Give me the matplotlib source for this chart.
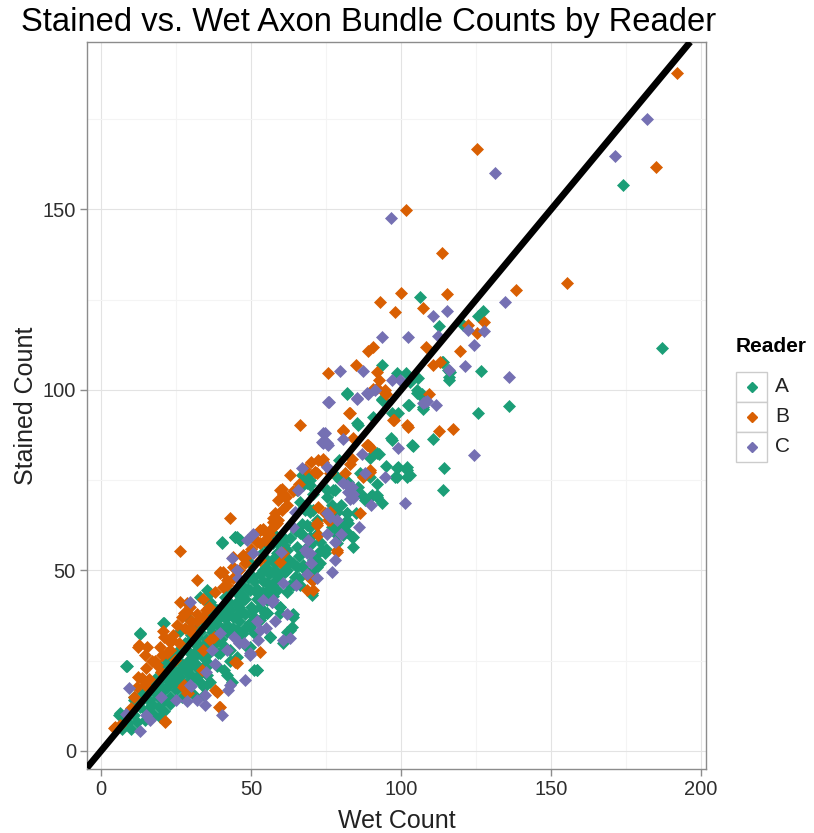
import matplotlib
matplotlib.use("Agg")
import matplotlib.pyplot as plt
from matplotlib.patches import Rectangle
from matplotlib.lines import Line2D

plt.rcParams['font.family'] = ['Liberation Sans', 'DejaVu Sans']

readers = ["A", "B", "C"]
colors = {"A": "#1B9E77", "B": "#D95F02", "C": "#7570B3"}

x_ticks = [0, 50, 100, 150, 200]
y_ticks = [0, 50, 100, 150]

# Reader A (wet, stained)
a_wet = [174.1, 186.9, 136.1, 125.6, 127.4, 126.6, 110.6, 116.3, 116.1, 116.1, 113.6, 112.8, 106.3, 106.9, 107.4,
         93.6, 98.6, 101.7, 114.1, 115.8, 81.9, 93.6, 105.4, 106.3, 102.8, 107.2, 99.1, 90.8, 85.8, 96.6,
         103.9, 91.0, 92.8, 79.4, 68.6, 67.4, 86.3, 89.7, 99.1, 101.9, 98.6, 101.9, 114.3, 113.9, 90.2,
         91.9, 78.0, 69.7, 125.7, 120.7, 105.7, 103.0,
         68.3, 65.2, 66.3, 68.6, 70.8, 78.6, 75.2, 85.8, 88.6, 67.4, 69.7, 68.6, 76.9, 78.6, 81.9, 81.9, 80.2,
         40.2, 44.7, 46.3, 56.9, 58.6, 61.3, 65.8, 67.4, 69.7, 71.9, 69.7, 73.0, 73.6, 74.7, 78.6, 83.6, 84.1,
         81.9, 71.9, 70.8, 66.3, 65.2, 61.3, 59.1, 63.0, 70.2, 53.6, 55.2, 54.1, 58.0, 59.7, 60.8, 62.4,
         35.2, 33.0, 36.3, 41.3, 38.6, 41.9, 46.3, 47.4, 49.7, 51.9, 55.2, 54.7, 58.6, 59.7, 64.1, 63.0, 56.3,
         49.7, 45.2, 39.7,
         21.1, 13.1, 26.4, 29.8, 8.4, 10.9, 14.2, 13.1, 16.4, 19.2, 5.9, 7.6, 14.8, 17.6, 19.8, 30.9, 34.2,
         43.7, 50.9, 35.3, 36.4, 32.0, 29.8, 26.4, 24.2, 22.0, 19.8, 23.1, 28.7, 32.0, 35.3, 38.7, 40.9, 42.0,
         39.8, 43.1, 45.3, 48.7, 34.2, 30.9, 28.7, 32.0, 36.4, 34.2, 39.8, 42.0, 46.4, 49.8, 50.9, 45.3, 25.3,
         22.0, 17.6, 15.3, 9.8, 8.7, 23.1, 20.9, 28.7, 34.2,
         70.2, 63.6, 63.6, 56.3, 51.9, 49.7, 47.4, 49.7, 53.0, 55.2, 59.7, 59.7, 57.4, 54.1, 50.8, 46.3, 47.4,
         51.9, 55.2, 64.7, 67.4, 70.8, 72.4, 63.0, 65.2, 61.9, 60.8, 66.3, 69.7, 71.9, 70.8, 78.6, 81.9, 82.4,
         80.8, 84.1, 78.6, 89.7, 91.9, 93.6, 88.0, 75.2, 77.4, 79.7, 82.4, 98.6, 101.9, 103.0, 98.0, 103.6,
         96.9, 91.9, 89.7, 85.2, 81.9, 93.6, 96.9, 102.4, 105.2, 66.9, 69.7, 69.7, 68.0, 44.7, 46.3, 57.4,
         58.6, 60.8,
         40.2, 45.2, 35.2, 37.4, 20.8, 13.0, 26.3, 29.7, 8.6, 19.7, 23.0, 6.3, 50.8, 55.2, 56.3, 51.9, 57.4,
         58.6, 55.2, 49.7, 50.8, 46.3, 36.3, 41.9, 45.2,
         25, 27, 30, 32, 35, 37, 40, 42, 44, 46, 48, 33, 31, 38, 36, 41, 43, 45, 47, 49, 52, 54, 56, 58,
         24, 22, 18, 16, 20, 26, 29, 33, 36, 39, 41, 43, 46, 48, 51, 53, 55, 57, 12, 10, 15, 11, 60.7, 62, 64,
         12, 14, 16, 18, 20, 22, 24, 26, 28, 30, 32, 34, 17, 19, 21, 23, 25, 27, 29, 31, 33, 35, 37, 39,
         41, 43, 45, 47, 49, 51, 53, 55, 57, 59, 61, 63, 65, 67, 38, 40, 42, 44, 46, 48, 50, 52, 54, 56,
         58, 60, 62, 64, 66, 68, 70, 72, 30, 32, 34, 36, 25, 27, 23, 21, 9, 11, 7, 62, 64, 66, 68, 73,
         75, 77, 80, 85, 87, 92, 95]
a_st = [156.9, 111.6, 95.6, 93.5, 121.9, 105.3, 86.3, 105.0, 103.7, 102.8, 107.8, 117.7, 125.8, 99.0, 95.4,
        106.9, 104.6, 104.6, 107.8, 105.5, 98.9, 97.6, 100.0, 98.6, 95.8, 94.6, 93.7, 92.4, 90.3, 86.6,
        84.5, 82.6, 82.3, 80.6, 76.5, 73.7, 76.9, 76.0, 78.7, 78.7, 76.0, 76.0, 78.5, 72.4, 70.9,
        70.9, 72.3, 73.7, 120.5, 118.0, 103.3, 102.2,
        76.5, 72.3, 69.0, 74.1, 71.3, 75.8, 72.3, 73.2, 69.5, 67.2, 66.8, 62.6, 68.1, 66.3, 65.8, 64.0, 62.1,
        57.9, 59.3, 58.4, 60.7, 57.9, 58.8, 61.2, 59.8, 59.3, 60.2, 57.1, 58.0, 55.7, 54.7, 59.8, 59.3, 56.5,
        60.7, 51.0, 50.1, 46.0, 51.0, 49.6, 48.3, 46.0, 43.2, 54.7, 52.9, 50.1, 50.1, 54.7, 51.9, 53.3,
        44.6, 42.7, 41.4, 42.7, 39.1, 37.2, 39.1, 41.8, 44.6, 43.7, 41.8, 38.1, 44.6, 40.0, 37.2, 33.5, 31.7,
        35.4, 33.5, 34.4,
        35.4, 32.4, 33.1, 36.3, 23.4, 14.1, 14.6, 12.3, 12.3, 12.3, 9.9, 9.1, 8.6, 10.0, 9.5, 15.5, 15.5,
        19.2, 22.4, 21.1, 19.2, 20.6, 19.7, 20.6, 19.2, 17.8, 19.7, 22.0, 22.0, 23.8, 24.3, 23.4, 22.4, 21.1,
        27.1, 28.0, 26.1, 28.9, 28.0, 26.1, 29.8, 31.7, 34.4, 36.3, 37.2, 40.0, 38.1, 35.4, 32.6, 32.6, 26.1,
        25.2, 17.8, 16.0, 11.4, 7.7, 15.0, 14.1, 18.8, 17.8,
        43.7, 37.7, 34.4, 31.7, 22.4, 28.9, 32.6, 34.4, 36.3, 38.1, 40.0, 38.1, 42.8, 41.8, 39.1, 38.1, 42.8,
        44.6, 46.4, 48.3, 51.5, 52.9, 54.8, 52.4, 56.6, 55.7, 58.4, 60.3, 62.1, 64.0, 66.8, 61.2, 65.8, 63.1,
        59.8, 59.4, 57.5, 70.4, 70.4, 68.6, 69.5, 70.4, 72.3, 75.1, 74.6, 78.3, 77.8, 76.4, 76.0, 84.8,
        86.2, 82.5, 81.1, 90.8, 99.1, 97.2, 93.5, 95.8, 99.1, 76.5, 75.1, 66.3, 66.8, 59.4, 58.4, 57.5,
        54.8, 51.5,
        57.5, 59.4, 41.4, 40.0, 35.4, 32.6, 27.1, 27.1, 23.4, 23.4, 21.5, 10.4, 35.4, 38.1, 31.7, 22.4, 43.7,
        47.4, 57.1, 52.0, 48.3, 45.5, 43.7, 44.6, 43.7,
        22, 24, 25, 27, 30, 29, 33, 35, 37, 40, 42, 33, 30, 36, 38, 39, 41, 44, 46, 48, 45, 47, 49, 52,
        24, 20, 16, 14, 18, 18, 23, 19, 24, 27, 29, 25, 31, 34, 37, 40, 43, 46, 8, 6, 11, 15, 29.9, 33, 38,
        14, 16, 18, 20, 22, 24, 26, 28, 30, 32, 34, 36, 13, 15, 17, 19, 21, 23, 25, 27, 29, 31, 33, 35,
        37, 39, 41, 43, 45, 47, 49, 51, 53, 55, 57, 59, 61, 63, 30, 31, 33, 34, 36, 38, 40, 42, 44, 45,
        47, 49, 50, 52, 54, 56, 58, 60, 21, 23, 26, 27, 17, 15, 13, 11, 8, 10, 6, 44, 46, 48, 50, 52,
        56, 62, 68, 66, 71, 74, 79]

# Reader B (wet, stained)
b_wet = [192.1, 185.1, 155.4, 125.3, 101.6, 113.8, 138.3, 115.4, 127.8, 122.4, 125.4, 119.7, 110.8, 108.3, 107.4,
         109.4, 117.4, 112.8, 89.1, 90.8, 85.0, 75.8, 92.1, 92.8, 113.0, 90.8, 94.7, 95.0, 82.8, 97.8,
         101.9, 102.4, 80.8, 66.3, 84.1, 89.1, 89.7, 83.6, 83.0, 73.9, 71.3, 89.7, 63.0, 71.9, 87.4,
         60.2, 60.8, 61.7, 43.0, 60.2, 59.1, 58.0, 72.4, 74.7, 75.8, 86.3, 50.8, 53.0, 54.1, 55.2, 57.4,
         71.9, 72.4, 78.6, 69.7, 70.8, 68.6, 44.1, 47.4, 44.1, 39.7, 41.9, 40.8, 100.0, 93.0, 98.0,
         26.3, 31.9, 39.7, 26.3, 28.6, 26.9, 29.7, 20.8, 23.0, 12.4, 15.2, 14.7, 19.7, 20.2, 23.0, 24.7,
         12.4, 14.1, 27.4, 29.1, 38.6, 39.7, 21.3, 4.7, 53.0, 45.2, 59.7, 59.1, 57.4, 53.0, 48.0, 53.0,
         40.8, 12.6, 20.9, 23.7, 25.3, 27.6, 28.7, 17.0, 18.7, 13.7, 14.8, 12.0, 4.2, 6.4, 21.2, 27.6,
         28.7, 38.1, 39.2, 44.8, 33.7, 36.4, 37.6,
         83.0, 80.8, 91.9, 94.7, 97.4, 88.6, 89.7, 76.3, 81.3, 71.3, 72.4, 74.1, 61.3, 57.4, 58.6, 54.1,
         54.7, 53.0, 49.7, 47.4, 59.7, 60.8, 70.2, 70.8, 78.6, 71.9, 76.3, 76.3, 32, 35, 30, 34,
         10, 16, 18, 22, 24, 30, 32, 34, 36, 38, 42, 46, 48, 50, 52, 56, 58, 62, 64, 66, 68, 70,
         20, 26, 30, 34, 11, 15, 28, 44]
b_st = [187.9, 161.8, 129.7, 166.8, 149.9, 137.9, 127.6, 126.7, 118.9, 118.0, 115.7, 110.8, 106.9, 111.8, 122.6,
        99.0, 89.3, 88.6, 110.9, 111.8, 106.9, 104.6, 105.0, 102.8, 107.8, 100.4, 100.0, 99.0, 93.5, 91.7,
        90.3, 89.8, 88.9, 90.3, 86.6, 84.8, 84.1, 81.0, 79.6, 81.0, 77.3, 77.3, 76.5, 77.1, 76.0,
        72.7, 71.3, 70.4, 64.4, 66.8, 64.0, 62.6, 67.7, 65.8, 64.0, 65.8, 59.3, 61.2, 61.6, 58.4, 63.5,
        62.6, 59.8, 55.7, 47.8, 47.4, 44.6, 53.8, 54.3, 51.0, 49.6, 47.4, 45.5, 127.0, 124.4, 121.6,
        55.4, 47.4, 49.2, 41.4, 38.6, 37.2, 40.0, 33.1, 30.3, 28.9, 28.9, 26.6, 28.9, 26.6, 28.0, 25.2,
        20.6, 19.7, 17.8, 16.0, 16.4, 12.3, 8.1, 6.7, 27.5, 24.3, 72.3, 69.5, 62.1, 61.2, 53.8, 52.9,
        49.7, 29.4, 31.7, 30.8, 34.9, 38.1, 40.9, 24.8, 23.8, 20.1, 18.3, 17.8, 6.3, 7.2, 8.4, 18.3,
        16.0, 16.9, 12.3, 24.7, 22.4, 30.8, 31.7,
        93.5, 88.5, 100.5, 99.1, 91.7, 84.8, 77.8, 76.9, 76.9, 77.4, 80.6, 80.1, 70.4, 64.4, 63.1, 61.2,
        58.4, 57.5, 54.8, 53.8, 52.4, 54.8, 47.4, 44.6, 55.2, 63.1, 64.0, 66.3, 36, 39, 34, 28,
        12, 20, 25, 27, 32, 36, 38, 42, 40, 44, 46, 50, 52, 56, 58, 60, 66, 68, 72, 74, 78, 80,
        22, 30, 33, 37, 15, 23, 34, 48]

# Reader C (wet, stained)
c_wet = [181.9, 171.3, 131.3, 96.7, 134.7, 122.4, 127.8, 124.4, 121.3, 136.1, 116.1, 112.4, 110.6, 115.4, 108.0,
         111.7, 93.6, 102.4, 79.7, 87.4, 96.9, 99.7, 91.3, 88.9, 76.1, 85.2, 107.4, 108.6, 74.7, 74.1,
         75.8, 80.6, 98.9, 86.9, 75.2, 76.3, 66.9, 94.7, 80.8, 83.6, 84.1, 88.0, 83.0, 64.7, 75.2, 78.6,
         50.8, 68.0, 69.7, 75.2, 78.0, 76.9, 68.6, 60.8, 57.4, 43.6, 50.8, 45.2, 45.8, 9.2, 13.1, 28.7,
         32.0, 40.3, 43.1, 47.6, 49.8, 44.2, 39.8, 29.7, 34.7, 56.9, 53.0, 48.6, 60.8, 63.0, 49.7, 68.6,
         69.1, 76.3, 82.4, 84.1, 81.9, 101.3, 74.1, 75.2, 73.6, 75.8, 88.6, 85.2, 65.8, 124.3, 29.7, 34.7,
         42.3, 48.0, 37.0, 52.3, 16.3, 8.3, 54.1, 56.9,
         20, 25, 35, 38, 42, 46, 52, 55, 58, 62, 65, 70, 72, 78, 80, 86, 90, 15, 30, 60, 64]
c_st = [175.1, 164.7, 160.0, 147.6, 124.5, 116.6, 116.4, 112.5, 106.7, 103.7, 105.5, 114.9, 120.5, 122.0, 96.8,
        95.8, 114.8, 114.8, 105.3, 105.3, 102.8, 102.8, 100.1, 99.0, 96.8, 97.4, 96.3, 97.0, 88.0, 85.4,
        84.8, 86.3, 83.8, 82.3, 78.7, 77.8, 78.3, 76.0, 74.1, 73.2, 71.3, 76.9, 69.9, 66.3, 65.8, 64.0,
        60.2, 55.7, 54.7, 60.2, 58.0, 49.6, 49.1, 46.4, 41.8, 53.4, 54.7, 50.1, 47.8, 17.4, 5.4, 13.7,
        14.1, 10.0, 18.3, 29.8, 27.1, 31.7, 32.6, 41.4, 15.5, 41.4, 33.5, 58.4, 30.8, 31.2, 26.6, 54.8,
        58.4, 64.9, 71.8, 70.0, 73.7, 68.6, 88.0, 85.2, 85.7, 96.8, 99.1, 97.7, 72.3, 82.0, 18.3, 12.7,
        16.9, 19.7, 28.0, 30.7, 8.6, 10.2, 41.8, 41.4,
        15, 14, 22, 24, 28, 30, 36, 34, 36, 38, 46, 52, 48, 53, 60, 62, 68, 10, 18, 55, 62]

series = {"A": (a_wet, a_st), "B": (b_wet, b_st), "C": (c_wet, c_st)}

W, H = 814, 833
fig = plt.figure(figsize=(W / 100, H / 100), dpi=100)
fig.patch.set_facecolor("white")
L, R, T, B = 87, 706, 42, 769
ax = fig.add_axes([L / W, 1 - B / H, (R - L) / W, (B - T) / H])

for r in readers:
    xs, ys = series[r]
    ax.plot(xs, ys, linestyle="none", marker="D", markersize=5.9,
            markerfacecolor=colors[r], markeredgecolor=colors[r], markeredgewidth=0.5, zorder=3)

ax.axline((0, 0), slope=1, color="black", linewidth=4.8, zorder=4, solid_capstyle="butt")

ax.set_xlim(-4.67, 201.67)
ax.set_ylim(-5.0, 196.4)
ax.set_xticks(x_ticks)
ax.set_yticks(y_ticks)
ax.set_xticks([25, 75, 125, 175], minor=True)
ax.set_yticks([25, 75, 125, 175], minor=True)
ax.grid(True, which="major", color="#E3E3E3", linewidth=0.8, zorder=0)
ax.grid(True, which="minor", color="#F4F4F4", linewidth=0.8, zorder=0)
ax.set_axisbelow(True)
for s in ax.spines.values():
    s.set_color("#8C8C8C")
    s.set_linewidth(1.0)
ax.tick_params(which="major", direction="out", length=5, width=1, color="#8C8C8C",
               labelsize=14.5, labelcolor="#2E2E2E", pad=3)
ax.tick_params(which="minor", length=0)

ax.set_xlabel("Wet Count", fontsize=18, color="#222222", labelpad=7)
ax.set_ylabel("Stained Count", fontsize=18, color="#222222", labelpad=3)

fig.text(369 / W, 1 - 23 / H, "Stained vs. Wet Axon Bundle Counts by Reader",
         fontsize=23.6, ha="center", va="center", color="black")

# legend
fig.text(736 / W, 1 - 347 / H, "Reader", fontsize=15, fontweight="bold", ha="left", va="center")
kx0, kx1 = 736, 767
ky = [372, 402, 432, 462]
for i, r in enumerate(readers):
    y0, y1 = ky[i], ky[i + 1]
    fig.add_artist(Rectangle((kx0 / W, 1 - y1 / H), (kx1 - kx0) / W, (y1 - y0) / H,
                             transform=fig.transFigure, facecolor="white",
                             edgecolor="#CCCCCC", linewidth=1.0))
    fig.add_artist(Line2D([(kx0 + kx1) / 2 / W], [1 - (y0 + y1) / 2 / H], transform=fig.transFigure,
                          marker="D", markersize=5.0, color=colors[r], linestyle="none"))
    fig.text(775 / W, 1 - (y0 + y1) / 2 / H, r, fontsize=15, ha="left", va="center", color="#222222")

fig.savefig("out.png", dpi=100)
